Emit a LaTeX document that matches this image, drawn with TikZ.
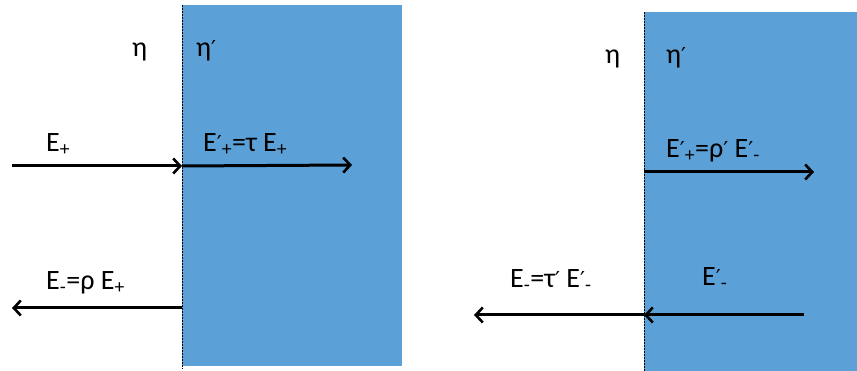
\documentclass[tikz,border=0pt]{standalone}
\usepackage{fontspec}
\setmainfont{Carlito}
\newfontfamily\symfont{DejaVu Sans}
\newcommand{\pr}{{\symfont\fontsize{22pt}{24pt}\selectfont ′}}
\newcommand{\lblfont}{\fontsize{28pt}{32pt}\selectfont}
\usetikzlibrary{arrows.meta}
\definecolor{slab}{RGB}{91,160,214}
\begin{document}
\begin{tikzpicture}[x=1pt,y=-1pt,
  medium/.style={fill=slab,draw=none},
  iface/.style={line width=0.9pt,dash pattern=on 2pt off 1pt},
  wave/.style={line width=3pt,-{Straight Barb[length=7pt,width=15pt,line width=2.6pt]}},
  lbl/.style={font=\lblfont,inner sep=0pt,anchor=base west}]
\useasboundingbox (0,0) rectangle (857,371);
% left panel
\fill[medium] (182,5) rectangle (402,366);
\draw[iface] (182,5) -- (182,369);
\node[lbl] (etaL) at (132,57) {η};
\node[lbl] (etapL) at (196,57) {η\pr};
\coordinate (inL) at (12,166);
\coordinate (ifL1) at (182,166);
\coordinate (trL) at (352,165);
\coordinate (ifL2) at (182,308);
\coordinate (rfL) at (12,308);
\draw[wave] (inL) -- (ifL1);
\draw[wave] (ifL1) -- (trL);
\draw[wave] (ifL2) -- (rfL);
\node[lbl] (Eplus) at (46,152) {E\textsubscript{+}};
\node[lbl] (Etr) at (203,152) {E\pr\textsubscript{+}=τ E\textsubscript{+}};
\node[lbl] (Erf) at (46,290) {E\textsubscript{-}=ρ E\textsubscript{+}};
% right panel
\fill[medium] (644,12) rectangle (857,371);
\draw[iface] (644,12) -- (644,371);
\node[lbl] (etaR) at (605,64) {η};
\node[lbl] (etapR) at (666,64) {η\pr};
\coordinate (ifR1) at (644,172);
\coordinate (rfR) at (814,172);
\coordinate (inR) at (804,315);
\coordinate (ifR2) at (644,315);
\coordinate (trR) at (474,315);
\draw[wave] (ifR1) -- (rfR);
\draw[wave] (inR) -- (ifR2);
\draw[wave] (ifR2) -- (trR);
\node[lbl] (ErfR) at (666,158) {E\pr\textsubscript{+}=ρ\pr\ E\pr\textsubscript{-}};
\node[lbl] (EinR) at (702,286) {E\pr\textsubscript{-}};
\node[lbl] (EtrR) at (510,288) {E\textsubscript{-}=τ\pr\ E\pr\textsubscript{-}};
\end{tikzpicture}
\end{document}
